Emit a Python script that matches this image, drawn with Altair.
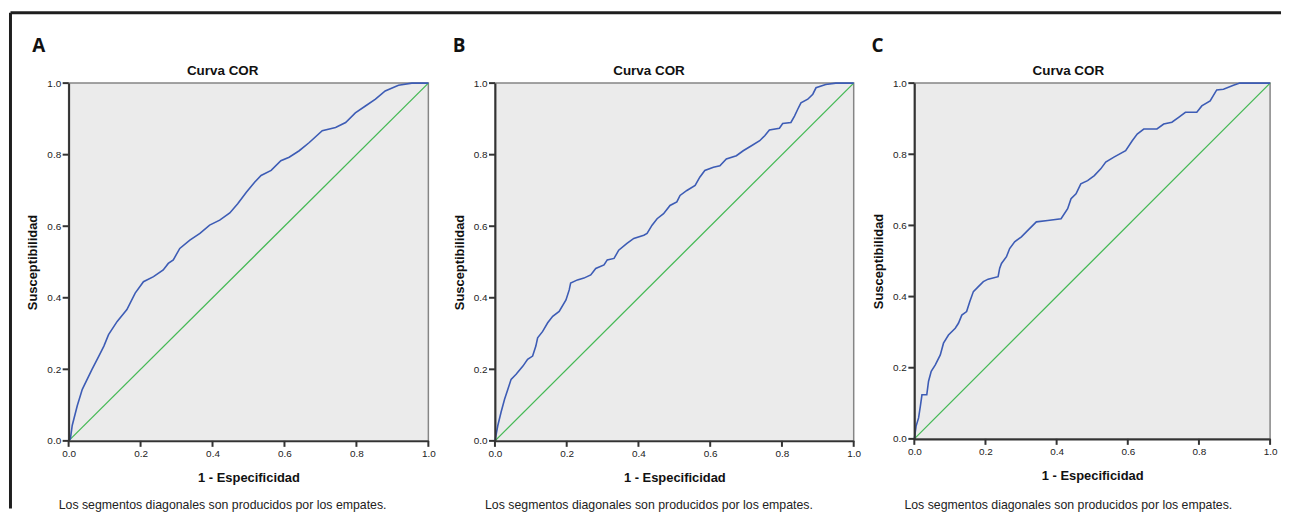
import altair as alt
import pandas as pd

# ---------------- data ----------------
a_fpr = [0.0, 0.005, 0.010, 0.024, 0.038, 0.065, 0.084, 0.098, 0.111, 0.135, 0.162, 0.185,
         0.208, 0.236, 0.263, 0.277, 0.291, 0.309, 0.337, 0.365, 0.392, 0.420, 0.448, 0.470,
         0.494, 0.517, 0.535, 0.563, 0.590, 0.613, 0.641, 0.669, 0.705, 0.742, 0.770, 0.797,
         0.825, 0.853, 0.880, 0.917, 0.954, 1.0]
a_tpr = [0.0, 0.006, 0.043, 0.098, 0.144, 0.200, 0.237, 0.265, 0.297, 0.334, 0.367, 0.413,
         0.445, 0.459, 0.478, 0.496, 0.506, 0.538, 0.561, 0.580, 0.603, 0.617, 0.637, 0.663,
         0.695, 0.723, 0.742, 0.756, 0.783, 0.793, 0.811, 0.834, 0.867, 0.876, 0.890, 0.917,
         0.936, 0.955, 0.978, 0.994, 1.0, 1.0]

b_fpr = [0.0, 0.008, 0.017, 0.027, 0.036, 0.045, 0.059, 0.078, 0.091, 0.105, 0.114, 0.119,
         0.133, 0.147, 0.161, 0.179, 0.198, 0.207, 0.211, 0.230, 0.248, 0.267, 0.281, 0.304,
         0.313, 0.332, 0.345, 0.368, 0.387, 0.415, 0.424, 0.438, 0.452, 0.470, 0.488, 0.507,
         0.516, 0.535, 0.558, 0.571, 0.585, 0.609, 0.627, 0.645, 0.673, 0.692, 0.715, 0.738,
         0.752, 0.765, 0.793, 0.802, 0.825, 0.835, 0.844, 0.853, 0.872, 0.886, 0.895, 0.922,
         0.950, 1.0]
b_tpr = [0.0, 0.043, 0.080, 0.117, 0.144, 0.172, 0.186, 0.209, 0.228, 0.237, 0.265, 0.288,
         0.306, 0.330, 0.348, 0.362, 0.394, 0.422, 0.441, 0.450, 0.455, 0.464, 0.482, 0.492,
         0.506, 0.510, 0.533, 0.552, 0.566, 0.575, 0.580, 0.603, 0.621, 0.635, 0.658, 0.668,
         0.686, 0.700, 0.714, 0.737, 0.756, 0.765, 0.769, 0.788, 0.797, 0.811, 0.825, 0.839,
         0.853, 0.869, 0.874, 0.887, 0.890, 0.908, 0.927, 0.945, 0.955, 0.969, 0.987, 0.996,
         1.0, 1.0]

c_fpr = [0.0, 0.005, 0.012, 0.017, 0.0215, 0.035, 0.040, 0.0475, 0.059, 0.073, 0.082, 0.096,
         0.115, 0.124, 0.1335, 0.147, 0.156, 0.166, 0.180, 0.194, 0.2075, 0.2355, 0.240, 0.245,
         0.259, 0.268, 0.282, 0.301, 0.319, 0.343, 0.375, 0.4125, 0.431, 0.4405, 0.4545, 0.468,
         0.487, 0.506, 0.524, 0.538, 0.561, 0.594, 0.6125, 0.6265, 0.645, 0.682, 0.701, 0.724,
         0.743, 0.762, 0.794, 0.808, 0.8315, 0.850, 0.869, 0.897, 0.915, 1.0]
c_tpr = [0.0, 0.036, 0.059, 0.092, 0.124, 0.124, 0.162, 0.190, 0.208, 0.236, 0.269, 0.292,
         0.311, 0.325, 0.348, 0.358, 0.386, 0.414, 0.428, 0.442, 0.449, 0.456, 0.480, 0.493,
         0.512, 0.535, 0.554, 0.568, 0.586, 0.610, 0.614, 0.619, 0.647, 0.675, 0.689, 0.717,
         0.726, 0.740, 0.759, 0.778, 0.792, 0.810, 0.838, 0.857, 0.871, 0.871, 0.885, 0.890,
         0.904, 0.918, 0.918, 0.936, 0.950, 0.981, 0.983, 0.994, 1.0, 1.0]

diag_x = [0.0, 1.0]
diag_y = [0.0, 1.0]
tick_values = [0.0, 0.2, 0.4, 0.6, 0.8, 1.0]

panel_letters = ["A", "B", "C"]
chart_title = "Curva COR"
x_title = "1 - Especificidad"
y_title = "Susceptibilidad"
footnote = "Los segmentos diagonales son producidos por los empates."

# ---------------- styling ----------------
BLUE = "#3d5cb5"
GREEN = "#45b955"
AX = "#333333"
FONT = "Liberation Sans"


def panel(letter, fpr, tpr, w, h, letter_dx, frame=False):
    df = pd.DataFrame({"fpr": fpr, "tpr": tpr, "i": list(range(len(fpr)))})
    ddf = pd.DataFrame({"fpr": diag_x, "tpr": diag_y, "i": [0, 1]})
    tdf = pd.DataFrame({"v": tick_values})
    xs = alt.Scale(domain=[0, 1], nice=False)
    ys = alt.Scale(domain=[0, 1], nice=False)
    common = dict(
        values=tick_values, format=".1f", grid=False, labelPadding=8,
        domain=True, ticks=False, labelFlush=False, labelOverlap=False,
        domainColor=AX, domainWidth=2,
        labelFont=FONT, labelFontSize=10, labelColor="#222",
        titleFont=FONT, titleFontSize=13, titleFontWeight="bold", titleColor="#111",
        titleBaseline="middle", zindex=1,
    )
    xaxis = alt.Axis(title=x_title, titleY=37, **common)
    yaxis = alt.Axis(title=y_title, titleX=-36, **common)

    diag = alt.Chart(ddf).mark_line(color=GREEN, strokeWidth=1.3).encode(
        x=alt.X("fpr:Q", scale=xs, axis=xaxis),
        y=alt.Y("tpr:Q", scale=ys, axis=yaxis),
        order="i:Q",
    )
    curve = alt.Chart(df).mark_line(color=BLUE, strokeWidth=1.6).encode(
        x=alt.X("fpr:Q", scale=xs, axis=xaxis),
        y=alt.Y("tpr:Q", scale=ys, axis=yaxis),
        order="i:Q",
    )
    # outward tick marks, positioned through the same scales
    xticks = alt.Chart(tdf).mark_rule(color=AX, strokeWidth=2).encode(
        x=alt.X("v:Q", scale=xs, axis=xaxis), y=alt.value(h), y2=alt.value(h + 6))
    yticks = alt.Chart(tdf).mark_rule(color=AX, strokeWidth=2).encode(
        y=alt.Y("v:Q", scale=ys, axis=yaxis), x=alt.value(-6), x2=alt.value(0))

    one = pd.DataFrame({"t": [letter]})
    letter_mark = alt.Chart(one).mark_text(
        font="Open Sans", fontSize=19, fontWeight="bold", color="#111",
        align="center", baseline="middle"
    ).encode(text="t:N", x=alt.value(letter_dx), y=alt.value(-37))
    title_mark = alt.Chart(pd.DataFrame({"t": [chart_title]})).mark_text(
        font=FONT, fontSize=13.5, fontWeight="bold", color="#111",
        align="center", baseline="middle"
    ).encode(text="t:N", x=alt.value(155), y=alt.value(-12))
    foot_mark = alt.Chart(pd.DataFrame({"t": [footnote]})).mark_text(
        font=FONT, fontSize=12.4, color="#222", align="left", baseline="middle"
    ).encode(text="t:N", x=alt.value(-10), y=alt.value(425))

    layers = [diag, curve, xticks, yticks, letter_mark, title_mark, foot_mark]
    if frame:
        f = pd.DataFrame({"k": [0]})
        top = alt.Chart(f).mark_rule(color="#1e1e1e", strokeWidth=3).encode(
            x=alt.value(-58.5), x2=alt.value(1220), y=alt.value(-70.8))
        left = alt.Chart(f).mark_rule(color="#1e1e1e", strokeWidth=3).encode(
            x=alt.value(-58.5), y=alt.value(-70.8), y2=alt.value(428))
        layers += [top, left]
    return alt.layer(*layers).properties(width=w, height=h)


pa = panel(panel_letters[0], a_fpr, a_tpr, 362, 360, -30, frame=True)
pb = panel(panel_letters[1], b_fpr, b_tpr, 361, 360, -36)
pc = panel(panel_letters[2], c_fpr, c_tpr, 358, 358, -37)

chart = alt.hconcat(
    pa,
    alt.hconcat(pb, pc, spacing=61, bounds="flush"),
    spacing=67,
    bounds="flush",
).properties(
    padding={"left": 0, "top": 0, "right": 0, "bottom": 0},
    background="white",
).configure_view(
    fill="#ebebeb", stroke="#858585", strokeWidth=1.5
).configure_axis(
    grid=False,
)

chart.save("out.html", embed_options={"renderer": "svg", "actions": False})
